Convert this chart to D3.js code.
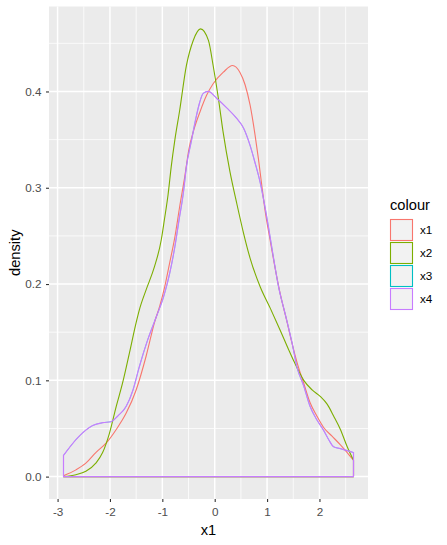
<!DOCTYPE html>
<html>
<head>
<meta charset="utf-8">
<script src="https://cdn.jsdelivr.net/npm/d3@7"></script>
<style>
  html, body { margin: 0; padding: 0; background: #ffffff; }
  svg { display: block; font-family: "Liberation Sans", Arial, sans-serif; }
</style>
</head>
<body>
<svg id="chart" width="447" height="545"></svg>
<script>
// ---- data ----
const seriesNames = ["x1", "x2", "x3", "x4"];
const seriesColors = ["#F8766D", "#7CAE00", "#00BFC4", "#C77CFF"];
const xTicks = [-3, -2, -1, 0, 1, 2];
const yTicks = [0.0, 0.1, 0.2, 0.3, 0.4];
const xTitle = "x1";
const yTitle = "density";
const legendTitle = "colour";

const x1Density = [
  [-2.887, 0.001], [-2.65, 0.007], [-2.46, 0.014], [-2.27, 0.025], [-2.07, 0.035],
  [-1.88, 0.049], [-1.69, 0.066], [-1.50, 0.090], [-1.31, 0.125], [-1.15, 0.160],
  [-1.05, 0.177], [-0.955, 0.197], [-0.86, 0.222], [-0.76, 0.249], [-0.67, 0.280],
  [-0.57, 0.312], [-0.49, 0.341], [-0.41, 0.358], [-0.28, 0.379], [-0.155, 0.396],
  [-0.03, 0.408], [0.165, 0.420], [0.34, 0.427], [0.48, 0.420], [0.58, 0.407],
  [0.675, 0.386], [0.77, 0.355], [0.835, 0.330], [0.90, 0.302], [0.96, 0.277],
  [1.06, 0.245], [1.155, 0.216], [1.25, 0.190], [1.38, 0.161], [1.46, 0.142],
  [1.57, 0.119], [1.70, 0.097], [1.82, 0.077], [1.95, 0.063], [2.08, 0.051],
  [2.24, 0.042], [2.40, 0.033], [2.53, 0.025], [2.65, 0.017]
];
const x2Density = [
  [-2.887, 0.000], [-2.65, 0.002], [-2.46, 0.0055], [-2.27, 0.014], [-2.14, 0.025],
  [-2.01, 0.045], [-1.88, 0.073], [-1.76, 0.097], [-1.63, 0.128], [-1.50, 0.160],
  [-1.44, 0.173], [-1.31, 0.194], [-1.15, 0.218], [-1.02, 0.246], [-0.96, 0.267],
  [-0.89, 0.293], [-0.83, 0.322], [-0.76, 0.350], [-0.67, 0.380], [-0.54, 0.427],
  [-0.41, 0.453], [-0.27, 0.465], [-0.12, 0.453], [-0.03, 0.427], [0.07, 0.393],
  [0.16, 0.358], [0.29, 0.317], [0.42, 0.284], [0.55, 0.253], [0.675, 0.227],
  [0.87, 0.197], [1.06, 0.175], [1.25, 0.152], [1.41, 0.132], [1.51, 0.120],
  [1.70, 0.100], [1.86, 0.090], [2.02, 0.083], [2.15, 0.075], [2.27, 0.063],
  [2.40, 0.049], [2.53, 0.031], [2.65, 0.017]
];
const x3Density = [
  [-2.887, 0.022], [-2.587, 0.042], [-2.33, 0.053], [-2.14, 0.056], [-1.98, 0.057],
  [-1.85, 0.063], [-1.69, 0.073], [-1.56, 0.090], [-1.44, 0.114], [-1.28, 0.142],
  [-1.115, 0.166], [-0.975, 0.187], [-0.86, 0.211], [-0.76, 0.239], [-0.68, 0.267],
  [-0.60, 0.294], [-0.54, 0.322], [-0.44, 0.350], [-0.36, 0.372], [-0.29, 0.388],
  [-0.22, 0.398], [-0.125, 0.400], [0.036, 0.393], [0.23, 0.383], [0.42, 0.372],
  [0.55, 0.362], [0.675, 0.344], [0.77, 0.326], [0.87, 0.305], [0.95, 0.283],
  [1.03, 0.258], [1.12, 0.228], [1.22, 0.197], [1.35, 0.168], [1.48, 0.138],
  [1.57, 0.114], [1.70, 0.094], [1.82, 0.073], [1.95, 0.059], [2.08, 0.048],
  [2.18, 0.038], [2.27, 0.031], [2.40, 0.029], [2.53, 0.027], [2.65, 0.025]
];
const x4Density = [
  [-2.887, 0.022], [-2.587, 0.042], [-2.33, 0.053], [-2.14, 0.056], [-1.98, 0.057],
  [-1.85, 0.063], [-1.69, 0.073], [-1.56, 0.090], [-1.44, 0.114], [-1.28, 0.142],
  [-1.115, 0.166], [-0.975, 0.187], [-0.86, 0.211], [-0.76, 0.239], [-0.68, 0.267],
  [-0.60, 0.294], [-0.54, 0.322], [-0.44, 0.350], [-0.36, 0.372], [-0.29, 0.388],
  [-0.22, 0.398], [-0.125, 0.400], [0.036, 0.393], [0.23, 0.383], [0.42, 0.372],
  [0.55, 0.362], [0.675, 0.344], [0.77, 0.326], [0.87, 0.305], [0.95, 0.283],
  [1.03, 0.258], [1.12, 0.228], [1.22, 0.197], [1.35, 0.168], [1.48, 0.138],
  [1.57, 0.114], [1.70, 0.094], [1.82, 0.073], [1.95, 0.059], [2.08, 0.048],
  [2.18, 0.038], [2.27, 0.031], [2.40, 0.029], [2.53, 0.027], [2.65, 0.025]
];

// ---- build ----
const seriesData = [x1Density, x2Density, x3Density, x4Density];
const panel = { left: 49, right: 368, top: 6.5, bottom: 499 };

const allPts = seriesData.flat();
const xMin = d3.min(allPts, d => d[0]), xMax = d3.max(allPts, d => d[0]);
const yMax = d3.max(allPts, d => d[1]);
const xPad = (xMax - xMin) * 0.05;
const yPad = yMax * 0.05;

const x = d3.scaleLinear().domain([xMin - xPad, xMax + xPad]).range([panel.left, panel.right]);
const y = d3.scaleLinear().domain([-yPad, yMax + yPad]).range([panel.bottom, panel.top]);

const svg = d3.select("#chart");

// panel background
svg.append("rect")
  .attr("x", panel.left).attr("y", panel.top)
  .attr("width", panel.right - panel.left).attr("height", panel.bottom - panel.top)
  .attr("fill", "#EBEBEB");

const grid = svg.append("g");
const xMinor = [-2.5, -1.5, -0.5, 0.5, 1.5, 2.5];
const yMinor = [0.05, 0.15, 0.25, 0.35, 0.45];
grid.selectAll(".vminor").data(xMinor).join("line")
  .attr("x1", d => x(d)).attr("x2", d => x(d))
  .attr("y1", panel.top).attr("y2", panel.bottom)
  .attr("stroke", "#ffffff").attr("stroke-width", 0.75);
grid.selectAll(".hminor").data(yMinor).join("line")
  .attr("y1", d => y(d)).attr("y2", d => y(d))
  .attr("x1", panel.left).attr("x2", panel.right)
  .attr("stroke", "#ffffff").attr("stroke-width", 0.75);
grid.selectAll(".vmajor").data(xTicks).join("line")
  .attr("x1", d => x(d)).attr("x2", d => x(d))
  .attr("y1", panel.top).attr("y2", panel.bottom)
  .attr("stroke", "#ffffff").attr("stroke-width", 1.5);
grid.selectAll(".hmajor").data(yTicks).join("line")
  .attr("y1", d => y(d)).attr("y2", d => y(d))
  .attr("x1", panel.left).attr("x2", panel.right)
  .attr("stroke", "#ffffff").attr("stroke-width", 1.5);

// density outlines (full polygon outline like ggplot's legacy geom_density)
const area = d3.area()
  .x(d => x(d[0]))
  .y0(y(0))
  .y1(d => y(d[1]))
  .curve(d3.curveMonotoneX);

// x3 lies exactly under x4 in the reference; draw it thinner so x4 hides it fully
const strokeWidths = [1.1, 1.1, 0.5, 1.2];
svg.append("g").selectAll("path").data(seriesData).join("path")
  .attr("d", d => area(d))
  .attr("fill", "none")
  .attr("stroke", (d, i) => seriesColors[i])
  .attr("stroke-width", (d, i) => strokeWidths[i])
  .attr("stroke-linejoin", "round");

// axes
const xAxis = svg.append("g")
  .attr("transform", `translate(0,${panel.bottom})`)
  .call(d3.axisBottom(x).tickValues(xTicks).tickFormat(d3.format("d")).tickSize(3).tickPadding(6));
const yAxis = svg.append("g")
  .attr("transform", `translate(${panel.left},0)`)
  .call(d3.axisLeft(y).tickValues(yTicks).tickFormat(d3.format(".1f")).tickSize(3).tickPadding(4.5));
[xAxis, yAxis].forEach(a => {
  a.select(".domain").remove();
  a.selectAll(".tick line").attr("stroke", "#333333").attr("stroke-width", 1.1);
  a.selectAll(".tick text").attr("fill", "#4D4D4D").style("font-size", "11.7px");
});
xAxis.selectAll(".tick text").text(d => String(d));

// axis titles
svg.append("text")
  .attr("x", (panel.left + panel.right) / 2).attr("y", 535)
  .attr("text-anchor", "middle").attr("fill", "#000")
  .style("font-size", "14.67px").text(xTitle);
svg.append("text")
  .attr("transform", `translate(20,${(panel.top + panel.bottom) / 2}) rotate(-90)`)
  .attr("text-anchor", "middle").attr("fill", "#000")
  .style("font-size", "14.67px").text(yTitle);

// legend
const legend = svg.append("g");
legend.append("text")
  .attr("x", 390).attr("y", 210)
  .attr("fill", "#000").style("font-size", "14.67px").text(legendTitle);
const keys = legend.selectAll(".key").data(seriesNames).join("g")
  .attr("transform", (d, i) => `translate(390,${219 + i * 23})`);
keys.append("rect")
  .attr("x", 0.5).attr("y", 0.5).attr("width", 22).attr("height", 21)
  .attr("fill", "#F2F2F2")
  .attr("stroke", (d, i) => seriesColors[i]).attr("stroke-width", 1.1);
keys.append("text")
  .attr("x", 30).attr("y", 11).attr("dy", "0.35em")
  .attr("fill", "#000").style("font-size", "11.7px").text(d => d);
</script>
</body>
</html>
